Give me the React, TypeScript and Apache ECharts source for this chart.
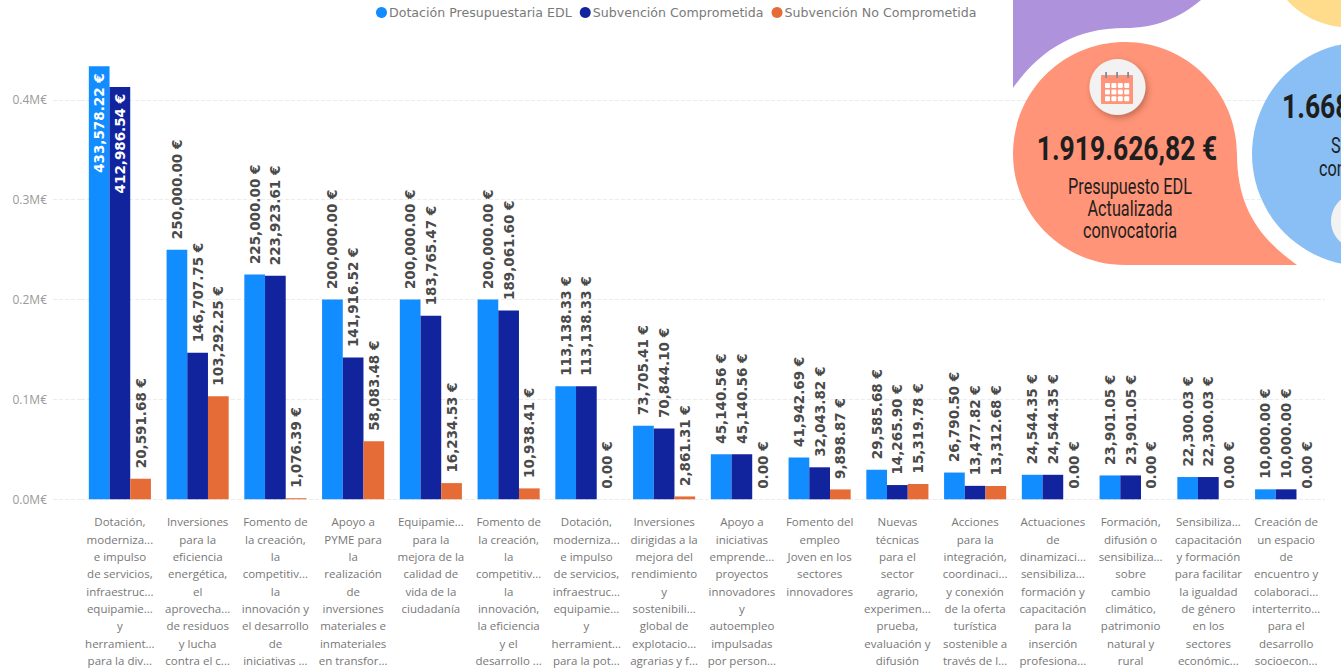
import React, { useEffect, useRef } from "react";
import * as echarts from "echarts";

const categories = [
  "Dotación,\nmoderniza...\ne impulso\nde servicios,\ninfraestruc...\nequipamie...\ny\nherramient...\npara la div...",
  "Inversiones\npara la\neficiencia\nenergética,\nel\naprovecha...\nde residuos\ny lucha\ncontra el c...",
  "Fomento de\nla creación,\nla\ncompetitiv...\nla\ninnovación y\nel desarrollo\nde\niniciativas ...",
  "Apoyo a\nPYME para\nla\nrealización\nde\ninversiones\nmateriales e\ninmateriales\nen transfor...",
  "Equipamie...\npara la\nmejora de la\ncalidad de\nvida de la\nciudadanía",
  "Fomento de\nla creación,\nla\ncompetitiv...\nla\ninnovación,\nla eficiencia\ny el\ndesarrollo ...",
  "Dotación,\nmoderniza...\ne impulso\nde servicios,\ninfraestruc...\nequipamie...\ny\nherramient...\npara la pot...",
  "Inversiones\ndirigidas a la\nmejora del\nrendimiento\ny\nsostenibili...\nglobal de\nexplotacio...\nagrarias y f...",
  "Apoyo a\niniciativas\nemprende...\nproyectos\ninnovadores\ny\nautoempleo\nimpulsadas\npor person...",
  "Fomento del\nempleo\nJoven en los\nsectores\ninnovadores",
  "Nuevas\ntécnicas\npara el\nsector\nagrario,\nexperimen...\nprueba,\nevaluación y\ndifusión",
  "Acciones\npara la\nintegración,\ncoordinaci...\ny conexión\nde la oferta\nturística\nsostenible a\ntravés de l...",
  "Actuaciones\nde\ndinamizaci...\nsensibiliza...\nformación y\ncapacitación\npara la\ninserción\nprofesiona...",
  "Formación,\ndifusión o\nsensibiliza...\nsobre\ncambio\nclimático,\npatrimonio\nnatural y\nrural",
  "Sensibiliza...\ncapacitación\ny formación\npara facilitar\nla igualdad\nde género\nen los\nsectores\neconómic...",
  "Creación de\nun espacio\nde\nencuentro y\ncolaboraci...\ninterterrito...\npara el\ndesarrollo\nsocioecon...",
];
const dotacion = [433578.22, 250000, 225000, 200000, 200000, 200000, 113138.33, 73705.41, 45140.56, 41942.69, 29585.68, 26790.5, 24544.35, 23901.05, 22300.03, 10000];
const comprometida = [412986.54, 146707.75, 223923.61, 141916.52, 183765.47, 189061.6, 113138.33, 70844.1, 45140.56, 32043.82, 14265.9, 13477.82, 24544.35, 23901.05, 22300.03, 10000];
const noComprometida = [20591.68, 103292.25, 1076.39, 58083.48, 16234.53, 10938.41, 0, 2861.31, 0, 9898.87, 15319.78, 13312.68, 0, 0, 0, 0];
const seriesNames = ["Dotación Presupuestaria EDL", "Subvención Comprometida", "Subvención No Comprometida"];
const seriesColors = ["#118DFF", "#12239E", "#E66C37"];
const yTicks = [0, 100000, 200000, 300000, 400000];

echarts.graphic.registerShape("purpleBlob", echarts.graphic.extendPath("M1013 0 L1201 0 C1180 18 1155 28 1125 28 C1075 28 1040 50 1013 88 Z", {}));
echarts.graphic.registerShape("yellowBlob", echarts.graphic.extendPath("M1287 0 L1341 0 L1341 27 C1320 25 1300 15 1287 0 Z", {}));
echarts.graphic.registerShape("salmonBlob", echarts.graphic.extendPath("M1125 42 C1187 42 1237 92 1237 154 C1237 210 1262 240 1297 265 L1125 265 C1063 265 1013 215 1013 154 C1013 92 1063 42 1125 42 Z", {}));

const money = (v: number) =>
  v.toLocaleString("en-US", { minimumFractionDigits: 2, maximumFractionDigits: 2 }) + " €";

const labelFont = { fontFamily: "DejaVu Sans", fontWeight: "bold" as const, fontSize: 13.5, color: "#4a4a4a" };

function makeData(values: number[]) {
  return values.map((v) =>
    v > 400000
      ? {
          value: v,
          label: {
            show: true,
            position: "insideTop",
            align: "right",
            verticalAlign: "middle",
            rotate: 90,
            distance: 8,
            offset: [1, 0],
            ...labelFont,
            color: "#fff",
            formatter: (p: any) => money(p.value),
          },
        }
      : { value: v },
  );
}

function calendarCells() {
  const cells: any[] = [];
  for (let r = 0; r < 3; r++) {
    for (let c = 0; c < 4; c++) {
      cells.push({
        type: "rect",
        z: 103,
        shape: { x: 1105 + c * 6.4, y: 83 + r * 6.6, width: 5, height: 5, r: 1 },
        style: { fill: "#fff" },
      });
    }
  }
  return cells;
}

const condensed = "Roboto, sans-serif";
const big = { align: "center", verticalAlign: "middle", fontFamily: condensed, fontWeight: "bold", fontSize: 34, fill: "#1e1e1e" };
const small = { align: "center", verticalAlign: "middle", fontFamily: condensed, fontSize: 22, fill: "#1e1e1e" };
const gridLine = { color: "#ececec", type: "dashed", width: 1 };

export default function App() {
  const ref = useRef<HTMLDivElement>(null);
  useEffect(() => {
    document.body.style.margin = "0";
    const chart = echarts.init(ref.current!, undefined, { renderer: "svg" });
    const mk = (name: string, color: string, values: number[]) => ({
      name,
      type: "bar",
      barWidth: 20.7,
      barGap: 0,
      itemStyle: { color },
      data: makeData(values),
      label: {
        show: true,
        position: "top",
        rotate: 90,
        align: "left",
        verticalAlign: "middle",
        distance: 9,
        offset: [1.5, 0],
        formatter: (p: any) => money(p.value),
        ...labelFont,
      },
    });
    chart.setOption({
      animation: false,
      backgroundColor: "#fff",
      legend: {
        left: 371,
        top: 1,
        itemWidth: 11,
        itemHeight: 11,
        itemGap: 8,
        icon: "circle",
        textStyle: { fontFamily: "DejaVu Sans", fontSize: 12.6, color: "#7a7a7a", padding: [0, 0, 0, -3] },
        data: seriesNames,
      },
      grid: { left: 81, right: 16, top: -1, bottom: 169, containLabel: false },
      xAxis: {
        type: "category",
        data: categories,
        axisLine: { show: false },
        axisTick: { show: false },
        axisLabel: {
          interval: 0,
          margin: 14,
          fontFamily: "Open Sans",
          fontSize: 11.5,
          lineHeight: 17.3,
          color: "#777",
          hideOverlap: false,
          align: "center",
        },
      },
      yAxis: {
        type: "value",
        min: 0,
        max: 500000,
        axisLine: { show: false },
        axisTick: { show: true, length: 29, lineStyle: gridLine, customValues: yTicks },
        splitLine: { show: true, lineStyle: gridLine },
        axisLabel: {
          margin: 34,
          customValues: yTicks,
          fontFamily: "Open Sans",
          fontSize: 12,
          color: "#999",
          formatter: (v: number) => (v / 1000000).toFixed(1) + "M€",
        },
      },
      series: [
        mk(seriesNames[0], seriesColors[0], dotacion),
        mk(seriesNames[1], seriesColors[1], comprometida),
        mk(seriesNames[2], seriesColors[2], noComprometida),
      ],
      graphic: {
        elements: [
          { type: "purpleBlob", z: 100, style: { fill: "#AE92DC" } },
          { type: "yellowBlob", z: 100, style: { fill: "#FFDB8C" } },
          { type: "salmonBlob", z: 100, style: { fill: "#FF9478" } },
          { type: "circle", z: 100, shape: { cx: 1364, cy: 154, r: 112 }, style: { fill: "#89BFF5" } },
          { type: "circle", z: 101, shape: { cx: 1359, cy: 221, r: 28 }, style: { fill: "#F2F2F2" } },
          {
            type: "circle",
            z: 101,
            shape: { cx: 1117.5, cy: 87, r: 28 },
            style: { fill: "#F2F2F2", shadowBlur: 6, shadowOffsetX: 2, shadowOffsetY: 3, shadowColor: "rgba(120,60,40,0.45)" },
          },
          { type: "rect", z: 102, shape: { x: 1101, y: 75, width: 32, height: 29, r: 1 }, style: { fill: "#FF9478" } },
          ...calendarCells(),
          { type: "rect", z: 103, shape: { x: 1105.2, y: 72, width: 1.8, height: 6 }, style: { fill: "#7f8aa3" } },
          { type: "rect", z: 103, shape: { x: 1116.2, y: 72, width: 1.8, height: 6 }, style: { fill: "#7f8aa3" } },
          { type: "rect", z: 103, shape: { x: 1127.2, y: 72, width: 1.8, height: 6 }, style: { fill: "#7f8aa3" } },
          { type: "text", z: 102, x: 1127, y: 148, scaleX: 0.78, style: { text: "1.919.626,82 €", ...big } },
          { type: "text", z: 102, x: 1130, y: 187, scaleX: 0.74, style: { text: "Presupuesto EDL", ...small } },
          { type: "text", z: 102, x: 1130, y: 209, scaleX: 0.74, style: { text: "Actualizada", ...small } },
          { type: "text", z: 102, x: 1130, y: 231, scaleX: 0.74, style: { text: "convocatoria", ...small } },
          { type: "text", z: 102, x: 1282, y: 106, scaleX: 0.78, style: { text: "1.668", ...big, align: "left" } },
          { type: "text", z: 102, x: 1331, y: 146, scaleX: 0.74, style: { text: "S", ...small, align: "left" } },
          { type: "text", z: 102, x: 1319, y: 169, scaleX: 0.74, style: { text: "con", ...small, align: "left" } },
        ],
      },
    });
    return () => chart.dispose();
  }, []);
  return <div ref={ref} style={{ width: 1341, height: 669 }} />;
}
